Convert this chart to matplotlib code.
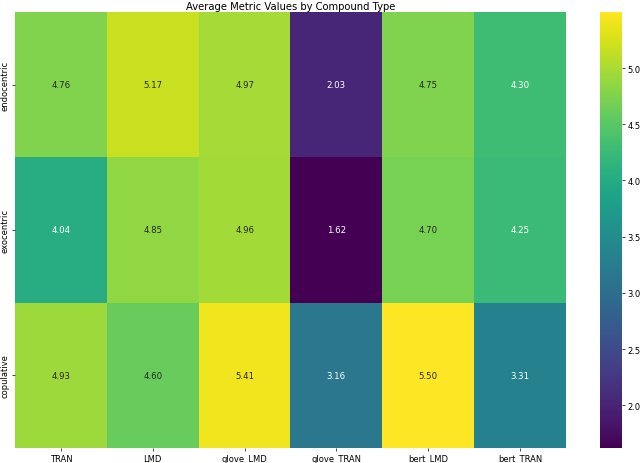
import matplotlib
matplotlib.use("Agg")
import matplotlib.pyplot as plt
import seaborn as sns
import pandas as pd

rows = ["endocentric", "exocentric", "copulative"]
cols = ["TRAN", "LMD", "glove_LMD", "glove_TRAN", "bert_LMD", "bert_TRAN"]
endocentric = [4.76, 5.17, 4.97, 2.03, 4.75, 4.30]
exocentric = [4.04, 4.85, 4.96, 1.62, 4.70, 4.25]
copulative = [4.93, 4.60, 5.41, 3.16, 5.50, 3.31]
cbar_ticks = [2.0, 2.5, 3.0, 3.5, 4.0, 4.5, 5.0]

df = pd.DataFrame([endocentric, exocentric, copulative], index=rows, columns=cols)

fig = plt.figure(figsize=(6.4, 4.64), dpi=100)
ax = fig.add_axes([0.0234, 0.0323, 0.861, 0.940])
cax = fig.add_axes([0.9375, 0.0323, 0.034, 0.940])
sns.heatmap(df, annot=True, fmt=".2f", cmap="viridis", ax=ax, cbar_ax=cax,
            annot_kws={"fontsize": 6.2})
ax.set_title("Average Metric Values by Compound Type", fontsize=7.2, pad=2)
ax.tick_params(axis="both", labelsize=6, length=2, width=0.5, pad=2)
ax.set_yticklabels(rows, rotation=90, va="center")
ax.set_xticklabels(cols, rotation=0)
cax.set_yticks(cbar_ticks)
cax.set_yticklabels([f"{t:.1f}" for t in cbar_ticks])
cax.tick_params(labelsize=6, length=2, width=0.5, pad=2)
cax.set_frame_on(False)
fig.savefig("out.png", dpi=100)
